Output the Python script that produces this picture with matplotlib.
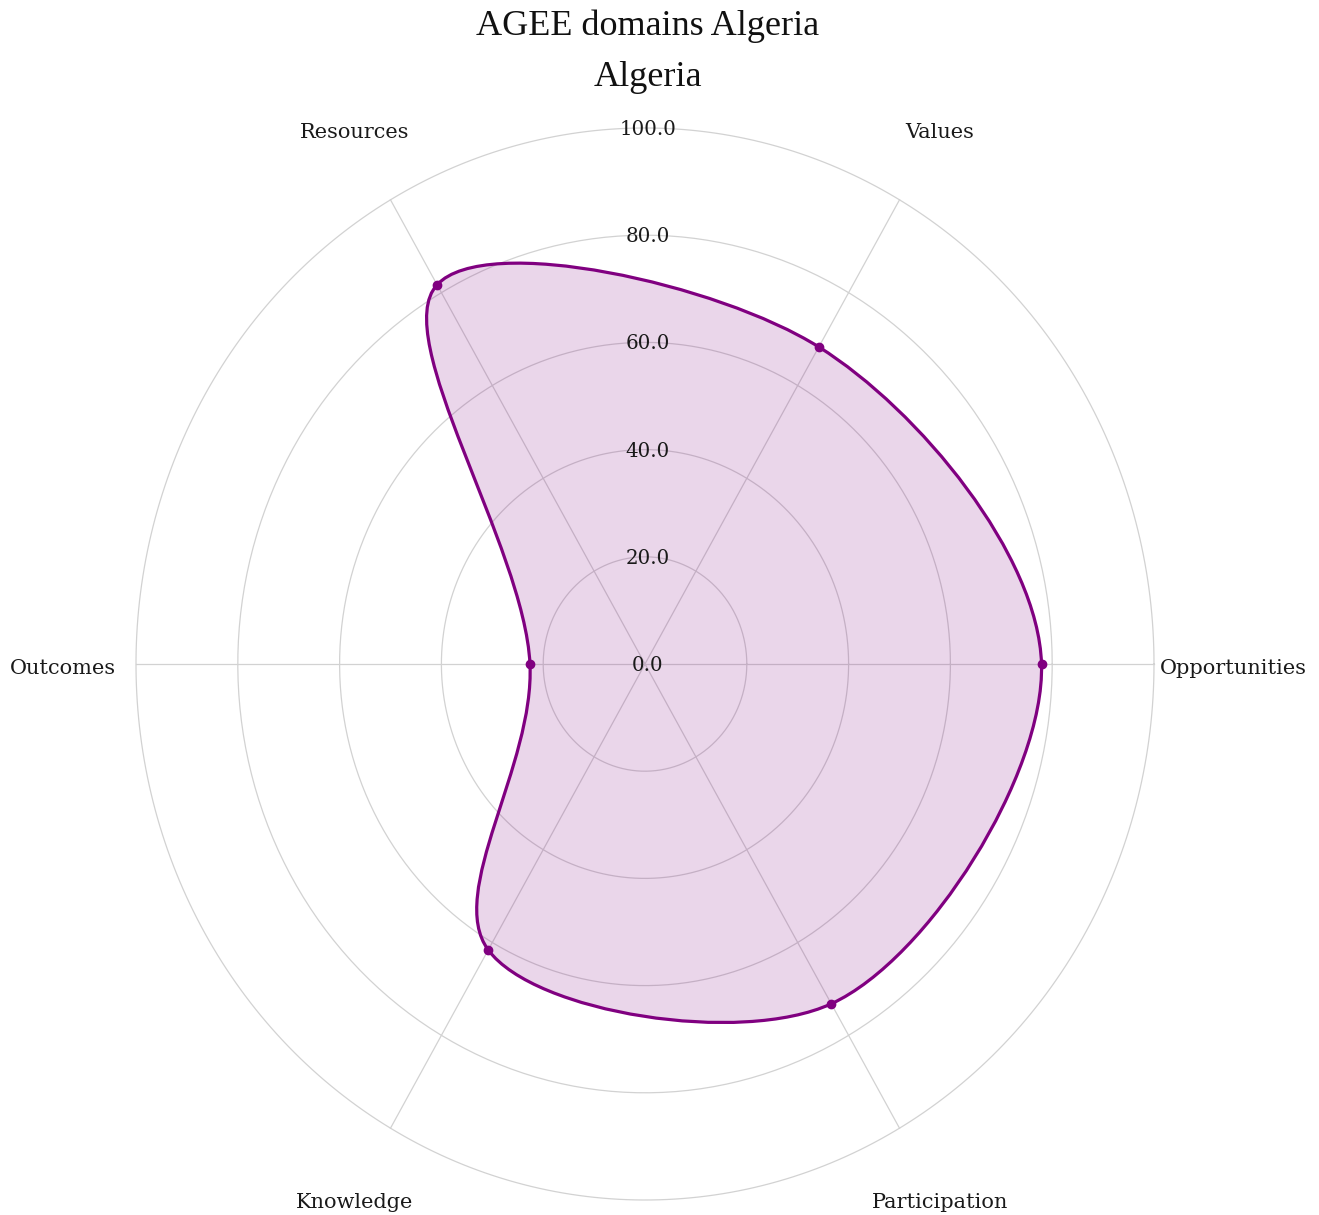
import numpy as np
import matplotlib
matplotlib.use("Agg")
import matplotlib.pyplot as plt
from matplotlib.path import Path
from matplotlib.patches import PathPatch

# ---- data ----
categories = ["Opportunities", "Values", "Resources", "Outcomes", "Knowledge", "Participation"]
values = [77.9, 68.3, 81.7, 22.6, 61.6, 73.2]
ring_values = [20, 40, 60, 80, 100]
tick_labels = ["0.0", "20.0", "40.0", "60.0", "80.0", "100.0"]
title = "AGEE domains Algeria"
subtitle = "Algeria"

LINE = "#800080"
GRID = "#d2d2d2"
TFONT = "Liberation Serif"
LFONT = "DejaVu Serif"

W, H = 1319, 1215
fig = plt.figure(figsize=(W / 100, H / 100), dpi=100)
cx, cy = 645, 664
rx, ry = 509, 536
ax = fig.add_axes([(cx - rx) / W, (H - cy - ry) / H, 2 * rx / W, 2 * ry / H])
ax.set_xlim(-100, 100)
ax.set_ylim(-100, 100)
ax.set_aspect("auto")
ax.axis("off")

n = len(categories)
angles = np.deg2rad(np.arange(n) * 360.0 / n)

# grid rings and spokes
t = np.linspace(0, 2 * np.pi, 400)
for r in ring_values:
    ax.plot(r * np.cos(t), r * np.sin(t), color=GRID, lw=0.9, zorder=1, clip_on=False)
for a in angles:
    ax.plot([0, 100 * np.cos(a)], [0, 100 * np.sin(a)], color=GRID, lw=0.9, zorder=1, clip_on=False)

# data points in pixel-like space for smoothing (closed Catmull-Rom spline)
vals = np.array(values)
xs = vals * np.cos(angles)
ys = vals * np.sin(angles)
sx, sy = rx / 100.0, ry / 100.0
pts = np.column_stack([xs * sx, ys * sy])

def tangent(prev, cur, nxt, smooth=1.0):
    d1 = prev - cur
    d2 = nxt - cur
    d1a = np.hypot(*d1) ** 0.5
    d2a = np.hypot(*d2) ** 0.5
    num = (d2a * d2a * d1 - d1a * d1a * d2) * smooth
    den1 = 3 * d2a * (d1a + d2a)
    den2 = 3 * d1a * (d1a + d2a)
    return cur + num / den1, cur - num / den2

tans = [tangent(pts[i - 1], pts[i], pts[(i + 1) % n]) for i in range(n)]
verts = [pts[0]]
codes = [Path.MOVETO]
for i in range(1, n + 1):
    j = i % n
    verts += [tans[i - 1][1], tans[j][0], pts[j]]
    codes += [Path.CURVE4] * 3
verts = np.array(verts) / np.array([sx, sy])
path = Path(verts, codes)
ax.add_patch(PathPatch(path, facecolor=LINE, alpha=0.16, edgecolor="none", zorder=2))
ax.add_patch(PathPatch(path, facecolor="none", edgecolor=LINE, lw=2.3, zorder=3))
ax.plot(xs, ys, "o", color=LINE, ms=6, zorder=4, clip_on=False)

def ptext(px, py, s, **kw):
    fig.text(px / W, 1 - py / H, s, **kw)

# radial tick labels (baseline ~7 px below the ring)
for r, lab in zip([0] + ring_values, tick_labels):
    py = cy - r * sy + 7
    ptext(648, py, lab, ha="center", va="baseline", fontsize=14.3, family=LFONT,
          color="#1a1a1a", zorder=5)

# category labels (pixel anchor of baseline)
label_pos = {
    "Opportunities": (1160, 674, "left"),
    "Values": (940, 138, "center"),
    "Resources": (355, 138, "center"),
    "Outcomes": (116, 674, "right"),
    "Knowledge": (355, 1208, "center"),
    "Participation": (940, 1208, "center"),
}
for c in categories:
    px, py, ha = label_pos[c]
    ptext(px, py, c, ha=ha, va="baseline", fontsize=15, family=LFONT, color="#1a1a1a")

ptext(648, 35, title, ha="center", va="baseline", fontsize=26, family=TFONT, color="#111111")
ptext(648, 86, subtitle, ha="center", va="baseline", fontsize=26, family=TFONT, color="#111111")

fig.savefig("out.png", dpi=100)
